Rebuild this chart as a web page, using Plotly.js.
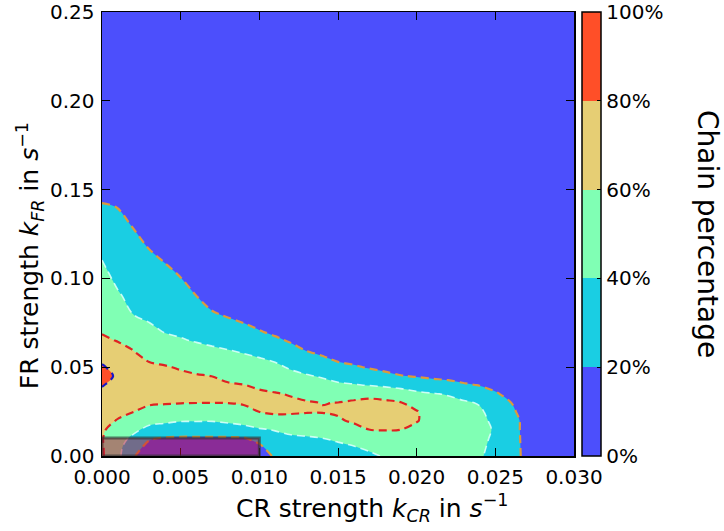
<!DOCTYPE html>
<html>
<head>
<meta charset="utf-8">
<script src="https://cdn.plot.ly/plotly-3.0.1.min.js"></script>
<style>html,body{margin:0;padding:0;background:#fff;}#chart{width:724px;height:531px;}</style>
</head>
<body>
<div id="chart"></div>
<script>
// CR strength k_CR (x) grid
var crStrength = [0, 0.001, 0.002, 0.003, 0.004, 0.005, 0.006, 0.007, 0.008, 0.009, 0.010, 0.011, 0.012, 0.013, 0.014, 0.015, 0.016, 0.017, 0.018, 0.019, 0.020, 0.021, 0.022, 0.023, 0.024, 0.025, 0.026, 0.027, 0.028, 0.030];
// FR strength k_FR (y) grid
var frStrength = [0, 0.005, 0.01, 0.015, 0.02, 0.025, 0.03, 0.035, 0.04, 0.045, 0.05, 0.055, 0.06, 0.065, 0.07, 0.08, 0.09, 0.10, 0.11, 0.12, 0.13, 0.14, 0.15, 0.17, 0.25];
// Chain percentage, one row per FR strength
var chainPercentage = [
 [62, 45, 21, 12, 8, 6, 6, 6, 6, 8, 12, 22, 26, 28, 30, 32, 34, 36, 42, 44, 45, 46, 46, 45, 42, 34, 28, 15, 8, 4],
 [61.5, 46.5, 25, 16.2, 13.5, 12.1, 12.1, 12.1, 12.1, 13.5, 17, 28.2, 31.5, 33.1, 35.0, 36.8, 39, 43.9, 48.4, 49.5, 48.9, 48.3, 47.5, 46.25, 43.3, 35.3, 27.75, 14.75, 8, 4],
 [61, 48, 35.7, 21.3, 18.9, 18.2, 18.2, 18.2, 18.2, 18.9, 25.3, 34.3, 36.9, 38.3, 39.9, 42.5, 47.0, 52.4, 54.9, 55.0, 52.8, 50.5, 49, 47.5, 44.7, 36.7, 27.5, 14.5, 7.9, 4],
 [62, 54, 44.8, 34.7, 31.4, 29.0, 29.0, 29.0, 30.8, 34.0, 38.7, 41.2, 44.9, 45.9, 47.5, 50.5, 55.7, 60.3, 60.7, 60.2, 56.7, 52.8, 50.5, 48.75, 46, 38, 27.25, 14.25, 7.8, 4],
 [66, 59, 52.8, 46, 44, 41.4, 41.4, 41.3, 43.6, 46.4, 50, 55.7, 56.0, 55.0, 55.2, 58.4, 62, 63.7, 64.2, 62.8, 60.8, 55.1, 52, 50, 43.9, 36.5, 27, 14, 7.7, 4],
 [69, 64.4, 60.3, 56, 54, 51.8, 51.2, 51.0, 52.7, 56.1, 60.2, 61.9, 61.5, 60.9, 60.8, 61.6, 66, 67, 66.3, 63.3, 61.0, 52.5, 47.9, 46.0, 41.9, 35, 23.6, 12, 7.6, 4],
 [72, 70, 63.1, 61.8, 61.2, 60.6, 60.3, 60.2, 60.4, 61.3, 62.2, 63.5, 62.1, 61.0, 59.7, 60.2, 62.2, 63.1, 62.6, 60.7, 52.6, 46.7, 43.8, 41.9, 39.0, 28.5, 20.1, 10, 7.5, 4],
 [76.4, 72.6, 66.0, 64.9, 64.1, 63.6, 63.2, 63.0, 62.6, 62.5, 61.6, 60.8, 59.1, 56.3, 52.9, 51.6, 54.2, 56.4, 54.0, 48.7, 43.3, 40.9, 38.9, 34.0, 29.1, 22.1, 14.1, 9.8, 7.4, 4],
 [80.9, 75.1, 68.9, 68, 67, 65.4, 63.9, 62.5, 61.2, 60.2, 58.3, 55.7, 52.1, 48.9, 45.7, 42.7, 41.1, 38.9, 36.1, 33.9, 31.5, 28.6, 25.8, 22.3, 19.1, 14.3, 8, 9.6, 7.3, 4],
 [85.5, 77.7, 68.3, 65.0, 64.0, 62.4, 61.1, 59.9, 57.2, 54.8, 52.4, 49.6, 45.0, 41.5, 38.4, 33.8, 31.5, 28.4, 24.6, 20.8, 18.7, 16.3, 15.0, 12, 8.2, 6, 7.9, 9.5, 7.2, 4],
 [81.9, 74.3, 65.4, 62.1, 61.0, 58.8, 56.4, 53.9, 51.5, 49.0, 46.4, 43.6, 38.0, 33.8, 30.2, 25.0, 22.2, 18.4, 15.3, 12.4, 9.6, 6, 6, 6.0, 5.9, 5.9, 7.8, 9.3, 7.1, 4],
 [76.25, 70, 62.6, 58.5, 56.0, 52.9, 50.3, 47.9, 45.7, 43.2, 40.5, 37.2, 31.4, 26.2, 22.1, 16.7, 14.0, 10.7, 7.6, 6.0, 5.9, 5.9, 5.9, 5.9, 5.8, 5.8, 7.6, 9.1, 7.0, 4],
 [70, 64.4, 59.5, 53.4, 50.1, 47.1, 44.2, 42.0, 39.9, 37.3, 34.0, 30.1, 24.8, 18.7, 14.7, 9.0, 6, 6.0, 5.9, 5.9, 5.9, 5.8, 5.8, 5.8, 5.7, 5.7, 7.5, 8.9, 6.9, 4],
 [63.1, 59.3, 54.4, 48.3, 44.1, 41.2, 38.9, 36.6, 34.3, 31.1, 27.5, 23.1, 18.3, 12.4, 7.4, 5.9, 5.9, 5.9, 5.8, 5.8, 5.8, 5.7, 5.7, 5.7, 5.6, 5.6, 7.4, 8.7, 6.8, 4],
 [58.7, 55.8, 49.2, 43.3, 39.3, 37.7, 35.1, 31.6, 28.5, 24.9, 21.0, 16.9, 12.1, 6, 5.9, 5.8, 5.8, 5.8, 5.7, 5.7, 5.7, 5.7, 5.7, 5.6, 5.6, 5.5, 7.3, 8.5, 6.7, 4],
 [54.1, 48.8, 39.6, 36.9, 34.3, 31.9, 27.5, 21.4, 17.9, 14.75, 10.9, 6, 5.9, 5.8, 5.7, 5.6, 5.6, 5.5, 5.5, 5.5, 5.5, 5.5, 5.5, 5.4, 5.4, 5.4, 7.1, 8.2, 6.5, 4],
 [49.4, 41.8, 35.6, 32.4, 29.4, 26.1, 20.1, 13.5, 10.0, 6, 5.9, 5.8, 5.7, 5.6, 5.5, 5.4, 5.4, 5.3, 5.3, 5.3, 5.3, 5.3, 5.3, 5.2, 5.2, 5.2, 6.9, 7.8, 6.3, 4],
 [44.8, 36.9, 31.5, 27.8, 24.4, 20.4, 13, 6, 5.9, 5.8, 5.6, 5.5, 5.4, 5.4, 5.3, 5.2, 5.2, 5.1, 5.1, 5.1, 5.1, 5.1, 5.1, 5.0, 5.0, 5.0, 6.6, 7.5, 6.1, 4],
 [40.2, 32.6, 27.5, 23.2, 19.3, 13.3, 6, 5.7, 5.6, 5.5, 5.4, 5.3, 5.2, 5.1, 5.0, 5.0, 5.0, 4.9, 4.9, 4.9, 4.9, 4.9, 4.9, 4.8, 4.8, 4.8, 6.4, 7.1, 5.9, 4],
 [34.0, 28.4, 23.5, 18.2, 12.7, 6, 5.8, 5.5, 5.4, 5.3, 5.2, 5.0, 5.0, 4.9, 4.8, 4.7, 4.7, 4.7, 4.7, 4.7, 4.7, 4.7, 4.7, 4.6, 4.6, 4.6, 6.2, 6.7, 5.7, 4],
 [27.8, 24.1, 19.1, 12.1, 6, 5.7, 5.5, 5.2, 5.1, 5.0, 4.9, 4.8, 4.7, 4.6, 4.6, 4.5, 4.5, 4.5, 4.5, 4.5, 4.5, 4.5, 4.5, 4.4, 4.4, 4.4, 6.0, 6.4, 5.5, 4],
 [21.6, 19.8, 12.6, 6, 5.7, 5.4, 5.3, 5.0, 4.8, 4.8, 4.7, 4.5, 4.5, 4.4, 4.3, 4.3, 4.3, 4.3, 4.3, 4.3, 4.3, 4.3, 4.3, 4.2, 4.2, 4.2, 5.7, 6.0, 5.3, 4],
 [14.9, 12.9, 6, 5.6, 5.3, 5.1, 5.0, 4.7, 4.6, 4.5, 4.4, 4.3, 4.3, 4.2, 4.1, 4.1, 4.1, 4.1, 4.1, 4.1, 4.1, 4.0, 4.0, 4.0, 4.0, 4.0, 5.5, 5.6, 5.1, 4],
 [7.3, 5.6, 5.6, 4.9, 4.7, 4.5, 4.6, 4.2, 4.1, 4.0, 3.9, 3.8, 3.8, 3.7, 3.7, 3.6, 3.6, 3.6, 3.6, 3.6, 3.6, 3.6, 3.6, 3.6, 3.6, 3.6, 5.1, 4.9, 4.7, 4],
 [2, 2, 2, 2, 2, 2, 2, 2, 2, 2, 2, 2, 2, 2, 2, 2, 2, 2, 2, 2, 2, 2, 2, 2, 2, 2, 2, 2, 2, 2]
];
var levelTicks = [0, 20, 40, 60, 80, 100];
var levelLabels = ['0%', '20%', '40%', '60%', '80%', '100%'];
var xTicks = [0, 0.005, 0.01, 0.015, 0.02, 0.025, 0.03];
var yTicks = [0, 0.05, 0.10, 0.15, 0.20, 0.25];
// highlighted parameter box (k_CR, k_FR)
var boxCR = [0, 0.010];
var boxFR = [0, 0.0101];

var bandColors = ['rgb(76,79,252)', 'rgb(26,206,227)', 'rgb(128,255,180)', 'rgb(230,206,116)', 'rgb(255,79,40)'];
var stepScale = [];
for (var i = 0; i < bandColors.length; i++) {
  stepScale.push([i / 5, bandColors[i]]);
  stepScale.push([(i + 1) / 5, bandColors[i]]);
}

var FONT = 'DejaVu Sans, sans-serif';
var TICK = 20, TITLE = 25;

var traces = [{
  type: 'contour',
  x: crStrength, y: frStrength, z: chainPercentage,
  zmin: 0, zmax: 100,
  autocontour: false,
  contours: {start: 0, end: 100, size: 20, coloring: 'fill', showlines: false},
  colorscale: stepScale,
  line: {width: 0, smoothing: 1},
  hoverinfo: 'skip',
  colorbar: {
    x: 1.017, xanchor: 'left', xpad: 0, ypad: 0,
    y: 0.5, yanchor: 'middle', len: 1, lenmode: 'fraction',
    thickness: 19, thicknessmode: 'pixels',
    outlinewidth: 1.5, outlinecolor: '#000',
    tickvals: levelTicks, ticktext: levelLabels,
    ticks: 'inside', ticklen: 4, tickcolor: '#000',
    tickfont: {family: FONT, size: TICK, color: '#000'},
    title: {text: ''}
  }
}];

var lineLevels = [20, 40, 60, 80];
var lineColors = ['#dc9a3c', 'rgba(215,255,250,0.9)', '#e02222', '#1818c8'];
var lineWidths = [2.2, 1.6, 2.2, 2.2];
for (var k = 0; k < lineLevels.length; k++) {
  traces.push({
    type: 'contour',
    x: crStrength, y: frStrength, z: chainPercentage,
    autocontour: false,
    contours: {start: lineLevels[k], end: lineLevels[k], size: 20, coloring: 'none'},
    line: {color: lineColors[k], width: lineWidths[k], dash: '8px,5px', smoothing: 1},
    showscale: false,
    hoverinfo: 'skip'
  });
}

var layout = {
  width: 724, height: 531,
  margin: {l: 102, r: 150, t: 12, b: 75, pad: 0},
  paper_bgcolor: '#fff', plot_bgcolor: '#fff',
  font: {family: FONT, size: TICK, color: '#000'},
  showlegend: false,
  xaxis: {
    range: [0, 0.03], tickvals: xTicks, tickformat: '.3f',
    ticks: 'inside', ticklen: 8, tickwidth: 1, tickcolor: '#000',
    showline: true, linecolor: '#000', linewidth: 1.5, mirror: 'ticks',
    showgrid: false, zeroline: false,
    ticklabelstandoff: 2,
    tickfont: {family: FONT, size: TICK, color: '#000'}
  },
  yaxis: {
    range: [0, 0.25], tickvals: yTicks, tickformat: '.2f',
    ticks: 'inside', ticklen: 8, tickwidth: 1, tickcolor: '#000',
    showline: true, linecolor: '#000', linewidth: 1.5, mirror: 'ticks',
    showgrid: false, zeroline: false,
    ticklabelstandoff: 2,
    tickfont: {family: FONT, size: TICK, color: '#000'}
  },
  annotations: [{
    xref: 'paper', yref: 'paper', x: 0.572, y: -0.117,
    xanchor: 'center', yanchor: 'middle',
    text: 'CR strength <i>k</i><sub><i>CR</i></sub> in <i>s</i><sup>\u22121</sup>', showarrow: false,
    font: {family: FONT, size: TITLE, color: '#000'}
  }, {
    xref: 'paper', yref: 'paper', x: -0.1525, y: 0.45,
    xanchor: 'center', yanchor: 'middle', textangle: -90,
    text: 'FR strength <i>k</i><sub><i>FR</i></sub> in <i>s</i><sup>\u22121</sup>', showarrow: false,
    font: {family: FONT, size: TITLE, color: '#000'}
  }, {
    xref: 'paper', yref: 'paper', x: 1.284, y: 0.5,
    xanchor: 'center', yanchor: 'middle', textangle: 90,
    text: 'Chain percentage', showarrow: false,
    font: {family: FONT, size: 28, color: '#000'}
  }],
  shapes: [{
    type: 'rect', xref: 'x', yref: 'y',
    x0: boxCR[0], x1: boxCR[1], y0: boxFR[0], y1: boxFR[1],
    fillcolor: 'rgba(200,10,50,0.5)',
    line: {color: 'rgba(50,50,50,0.65)', width: 3},
    layer: 'above'
  }]
};

Plotly.newPlot('chart', traces, layout, {displayModeBar: false, staticPlot: true});
</script>
</body>
</html>
